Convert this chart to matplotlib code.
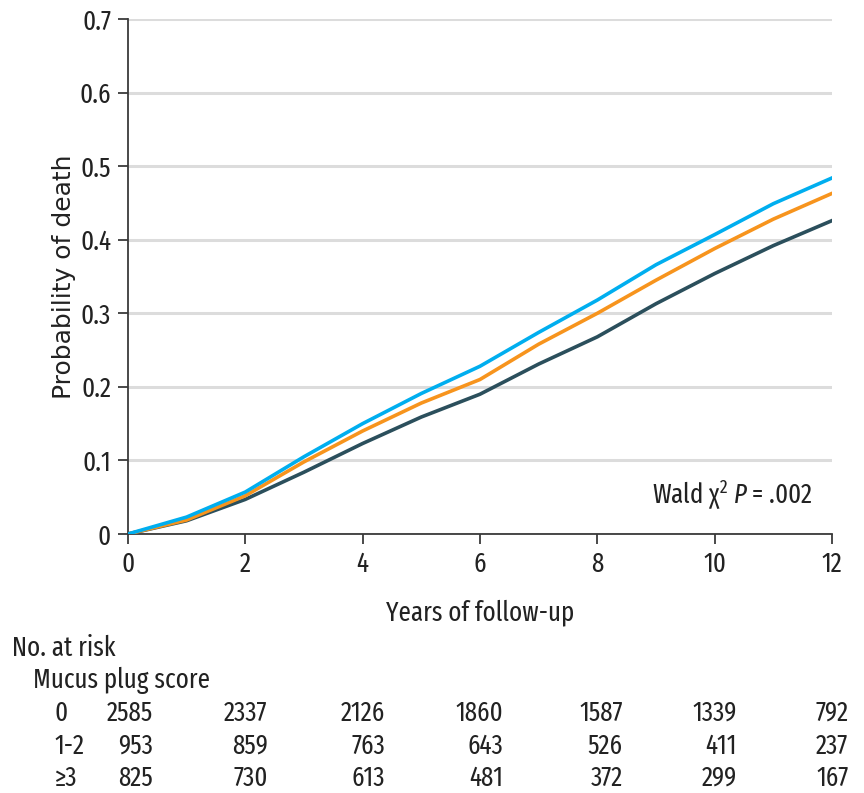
import matplotlib
matplotlib.use("Agg")
import matplotlib.pyplot as plt
import matplotlib.transforms as mtransforms
from matplotlib import font_manager

installed = {f.name for f in font_manager.fontManager.ttflist}
FONT = next(f for f in ['Fira Sans Extra Condensed', 'Fira Sans Condensed',
                        'Roboto Condensed', 'DejaVu Sans'] if f in installed)
plt.rcParams['font.family'] = [FONT, 'DejaVu Sans']
plt.rcParams['mathtext.fontset'] = 'custom'
plt.rcParams['mathtext.rm'] = FONT
plt.rcParams['mathtext.it'] = FONT + ':italic'

# cumulative probability of death by year of follow-up
years = list(range(13))
score_0 = [0, 0.018, 0.047, 0.084, 0.123, 0.159, 0.190, 0.231, 0.268, 0.313, 0.354, 0.392, 0.426]
score_1_2 = [0, 0.019, 0.052, 0.098, 0.140, 0.178, 0.210, 0.258, 0.300, 0.345, 0.388, 0.428, 0.463]
score_3 = [0, 0.023, 0.057, 0.105, 0.150, 0.191, 0.228, 0.274, 0.318, 0.366, 0.407, 0.449, 0.484]

# numbers at risk
risk_years = [0, 2, 4, 6, 8, 10, 12]
risk_groups = ['0', '1-2', '\u22653']
risk_0 = [2585, 2337, 2126, 1860, 1587, 1339, 792]
risk_1_2 = [953, 859, 763, 643, 526, 411, 237]
risk_3 = [825, 730, 613, 481, 372, 299, 167]

FS = 19.5
INK = '#222222'

fig = plt.figure(figsize=(8.64, 7.93), dpi=100)
ax = fig.add_axes([0.148, 0.3266, 0.815, 0.6494])

ax.plot(years, score_0, color='#2b4f5c', lw=2.6, zorder=3)
ax.plot(years, score_1_2, color='#f7941d', lw=2.6, zorder=4)
ax.plot(years, score_3, color='#00aeef', lw=2.6, zorder=5)

ax.set_xlim(0, 12)
ax.set_ylim(0, 0.7)
ax.set_xticks(risk_years)
ax.set_yticks([0, 0.1, 0.2, 0.3, 0.4, 0.5, 0.6, 0.7])
ax.set_yticklabels(['0', '0.1', '0.2', '0.3', '0.4', '0.5', '0.6', '0.7'])
ax.yaxis.grid(True, color='#dcdcdc', lw=2.2)
ax.set_axisbelow(True)
for s in ['top', 'right']:
    ax.spines[s].set_visible(False)
for s in ['left', 'bottom']:
    ax.spines[s].set_color('#3a3a3a')
    ax.spines[s].set_linewidth(1.3)
ax.tick_params(direction='out', length=7, width=1.3, color='#3a3a3a',
               labelsize=FS, labelcolor=INK, pad=5)

ax.set_ylabel('Probability of death', fontsize=18, color=INK,
              family=['DejaVu Sans'], labelpad=3)
ax.set_xlabel('Years of follow-up', fontsize=FS, color=INK, labelpad=16)

ax.text(0.972, 0.076, r'Wald χ$^{2}$ $P$ = .002', transform=ax.transAxes,
        ha='right', va='center', fontsize=FS, color=INK)

# number-at-risk table below the axes, right-aligned a little past each tick
tr = mtransforms.blended_transform_factory(ax.transData, fig.transFigure)
col_shift = [0.43, 0.38, 0.38, 0.39, 0.43, 0.38, 0.28]
fig.text(0.014, 0.183, 'No. at risk', fontsize=FS, color=INK, va='center')
fig.text(0.038, 0.1425, 'Mucus plug score', fontsize=FS, color=INK, va='center')
rows_y = [0.1009, 0.0593, 0.0189]
for label, counts, y in zip(risk_groups, [risk_0, risk_1_2, risk_3], rows_y):
    fig.text(0.0625, y, label, fontsize=FS, color=INK, va='center')
    for yr, n, dx in zip(risk_years, counts, col_shift):
        ax.text(yr + dx, y, str(n), transform=tr, ha='right', va='center',
                fontsize=FS, color=INK, clip_on=False)

fig.savefig('out.png', dpi=100)
